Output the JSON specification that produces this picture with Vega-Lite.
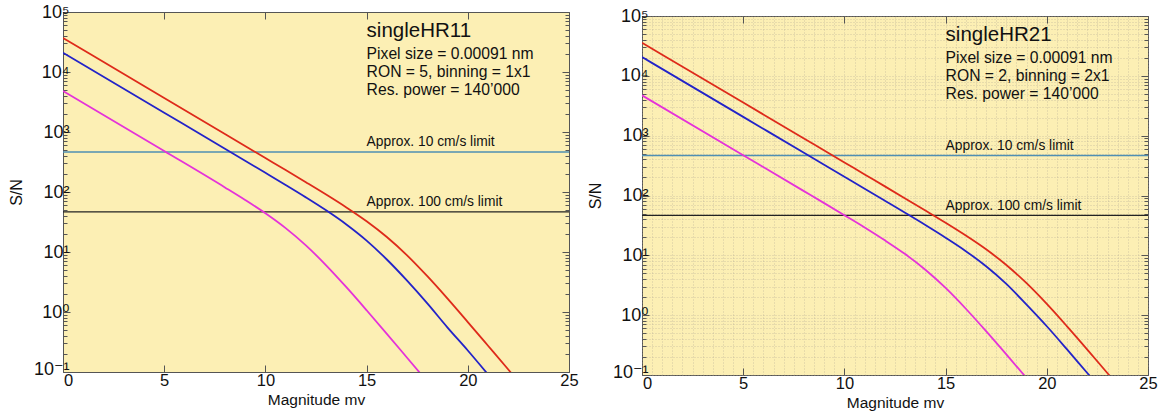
{
  "$schema": "https://vega.github.io/schema/vega-lite/v6.json",
  "padding": {"left": 7, "top": 2, "right": 5, "bottom": 5},
  "background": "white",
  "spacing": 73,
  "bounds": "flush",
  "config": {
    "font": "Liberation Sans, DejaVu Sans, sans-serif",
    "view": {"fill": "#fcefb4", "stroke": "#555555", "strokeWidth": 1},
    "axis": {"domain": false, "tickColor": "#555555", "labelColor": "#111111", "titleColor": "#111111", "labelFont": "Liberation Sans, DejaVu Sans, sans-serif", "titleFont": "Liberation Sans, sans-serif", "titleFontWeight": "normal"}
  },
  "datasets": {
    "left": [
      {"series": "red", "mag": 0, "sn": 36900}, {"series": "red", "mag": 5, "sn": 3690}, {"series": "red", "mag": 8, "sn": 927}, {"series": "red", "mag": 10, "sn": 368}, {"series": "red", "mag": 11, "sn": 232}, {"series": "red", "mag": 12, "sn": 145.6}, {"series": "red", "mag": 13, "sn": 90.7}, {"series": "red", "mag": 14, "sn": 55.4}, {"series": "red", "mag": 15, "sn": 32.6}, {"series": "red", "mag": 16, "sn": 17.8}, {"series": "red", "mag": 17, "sn": 8.8}, {"series": "red", "mag": 18, "sn": 3.95}, {"series": "red", "mag": 19, "sn": 1.67}, {"series": "red", "mag": 20, "sn": 0.68}, {"series": "red", "mag": 21, "sn": 0.274}, {"series": "red", "mag": 22, "sn": 0.11}, {"series": "red", "mag": 22.5, "sn": 0.069},
      {"series": "blue", "mag": 0, "sn": 21000}, {"series": "blue", "mag": 5, "sn": 2100}, {"series": "blue", "mag": 8, "sn": 527}, {"series": "blue", "mag": 10, "sn": 209}, {"series": "blue", "mag": 11, "sn": 131}, {"series": "blue", "mag": 12, "sn": 81.4}, {"series": "blue", "mag": 13, "sn": 49.5}, {"series": "blue", "mag": 14, "sn": 28.8}, {"series": "blue", "mag": 15, "sn": 15.5}, {"series": "blue", "mag": 16, "sn": 7.5}, {"series": "blue", "mag": 17, "sn": 3.33}, {"series": "blue", "mag": 18, "sn": 1.39}, {"series": "blue", "mag": 19, "sn": 0.55}, {"series": "blue", "mag": 20, "sn": 0.228}, {"series": "blue", "mag": 21, "sn": 0.091},
      {"series": "magenta", "mag": 0, "sn": 4820}, {"series": "magenta", "mag": 5, "sn": 482}, {"series": "magenta", "mag": 8, "sn": 119.3}, {"series": "magenta", "mag": 9, "sn": 73.6}, {"series": "magenta", "mag": 10, "sn": 44.2}, {"series": "magenta", "mag": 11, "sn": 25}, {"series": "magenta", "mag": 12, "sn": 12.9}, {"series": "magenta", "mag": 13, "sn": 6.0}, {"series": "magenta", "mag": 14, "sn": 2.59}, {"series": "magenta", "mag": 15, "sn": 1.07}, {"series": "magenta", "mag": 16, "sn": 0.433}, {"series": "magenta", "mag": 17, "sn": 0.173}, {"series": "magenta", "mag": 18, "sn": 0.069}
    ],
    "right": [
      {"series": "red", "mag": 0, "sn": 35700}, {"series": "red", "mag": 5, "sn": 3570}, {"series": "red", "mag": 8, "sn": 897}, {"series": "red", "mag": 10, "sn": 357}, {"series": "red", "mag": 11, "sn": 225}, {"series": "red", "mag": 12, "sn": 142}, {"series": "red", "mag": 13, "sn": 89.4}, {"series": "red", "mag": 14, "sn": 56.1}, {"series": "red", "mag": 15, "sn": 35}, {"series": "red", "mag": 16, "sn": 21.4}, {"series": "red", "mag": 17, "sn": 12.6}, {"series": "red", "mag": 18, "sn": 6.9}, {"series": "red", "mag": 19, "sn": 3.42}, {"series": "red", "mag": 20, "sn": 1.54}, {"series": "red", "mag": 21, "sn": 0.65}, {"series": "red", "mag": 22, "sn": 0.266}, {"series": "red", "mag": 23, "sn": 0.107}, {"series": "red", "mag": 23.5, "sn": 0.068},
      {"series": "blue", "mag": 0, "sn": 20600}, {"series": "blue", "mag": 5, "sn": 2060}, {"series": "blue", "mag": 8, "sn": 518}, {"series": "blue", "mag": 10, "sn": 206}, {"series": "blue", "mag": 11, "sn": 130}, {"series": "blue", "mag": 12, "sn": 81.8}, {"series": "blue", "mag": 13, "sn": 51.4}, {"series": "blue", "mag": 14, "sn": 32.1}, {"series": "blue", "mag": 15, "sn": 19.7}, {"series": "blue", "mag": 16, "sn": 11.75}, {"series": "blue", "mag": 17, "sn": 6.56}, {"series": "blue", "mag": 18, "sn": 3.33}, {"series": "blue", "mag": 19, "sn": 1.5}, {"series": "blue", "mag": 20, "sn": 0.653}, {"series": "blue", "mag": 21, "sn": 0.268}, {"series": "blue", "mag": 22, "sn": 0.108}, {"series": "blue", "mag": 22.5, "sn": 0.069},
      {"series": "magenta", "mag": 0, "sn": 4720}, {"series": "magenta", "mag": 5, "sn": 472}, {"series": "magenta", "mag": 8, "sn": 118.4}, {"series": "magenta", "mag": 9, "sn": 74.6}, {"series": "magenta", "mag": 10, "sn": 46.8}, {"series": "magenta", "mag": 11, "sn": 29.2}, {"series": "magenta", "mag": 12, "sn": 17.8}, {"series": "magenta", "mag": 13, "sn": 10.5}, {"series": "magenta", "mag": 14, "sn": 5.74}, {"series": "magenta", "mag": 15, "sn": 2.85}, {"series": "magenta", "mag": 16, "sn": 1.28}, {"series": "magenta", "mag": 17, "sn": 0.54}, {"series": "magenta", "mag": 18, "sn": 0.221}, {"series": "magenta", "mag": 19, "sn": 0.089}, {"series": "magenta", "mag": 19.5, "sn": 0.056}
    ],
    "titleL": [{"mag": 15, "sn": 38500, "text": "singleHR11"}],
    "titleR": [{"mag": 15, "sn": 38500, "text": "singleHR21"}],
    "infoL": [
      {"mag": 15, "sn": 16300, "text": "Pixel size = 0.00091 nm"},
      {"mag": 15, "sn": 8200, "text": "RON = 5, binning = 1x1"},
      {"mag": 15, "sn": 4100, "text": "Res. power = 140’000"}
    ],
    "infoR": [
      {"mag": 15, "sn": 16300, "text": "Pixel size = 0.00091 nm"},
      {"mag": 15, "sn": 8200, "text": "RON = 2, binning = 2x1"},
      {"mag": 15, "sn": 4100, "text": "Res. power = 140’000"}
    ],
    "limitText": [
      {"mag": 15, "sn": 585, "text": "Approx. 10 cm/s limit"},
      {"mag": 15, "sn": 58, "text": "Approx. 100 cm/s limit"}
    ]
  },
  "hconcat": [
    {
      "width": 506,
      "height": 360,
      "resolve": {"axis": {"x": "independent", "y": "independent"}},
      "layer": [
        {
          "data": {"values": [{"sn": 465}]},
          "mark": {"type": "rule", "color": "#4f8fb3", "strokeWidth": 1.5},
          "encoding": {"y": {"field": "sn", "type": "quantitative", "scale": {"type": "log", "domain": [0.1, 100000]}, "axis": null}}
        },
        {
          "data": {"values": [{"sn": 46.5}]},
          "mark": {"type": "rule", "color": "#222222", "strokeWidth": 1.3},
          "encoding": {"y": {"field": "sn", "type": "quantitative", "scale": {"type": "log", "domain": [0.1, 100000]}, "axis": null}}
        },
        {
          "data": {"name": "left"},
          "mark": {"type": "line", "strokeWidth": 1.8, "clip": true, "interpolate": "monotone"},
          "encoding": {
            "x": {"field": "mag", "type": "quantitative", "scale": {"domain": [0, 25], "nice": false},
              "axis": {"orient": "bottom", "values": [0, 5, 10, 15, 20, 25], "title": "Magnitude mv", "titleFontSize": 15.5, "titlePadding": 4, "labelFontSize": 16.5, "labelPadding": 7, "labelFlush": false, "tickSize": -7, "grid": false,
                "labelOffset": {"condition": {"test": "datum.value == 0", "value": 5}, "value": 0}}},
            "y": {"field": "sn", "type": "quantitative", "scale": {"type": "log", "domain": [0.1, 100000], "nice": false},
              "axis": {"orient": "left", "title": "S/N", "titleFontSize": 16, "titlePadding": 9, "labelFontSize": 18, "labelPadding": 1, "labelFlush": false, "labelOverlap": false, "labelBaseline": "middle", "grid": false,
                "labelOffset": {"condition": {"test": "datum.value == 0.1", "value": -3}, "value": 0},
                "values": [0.1,0.2,0.3,0.4,0.5,0.6,0.7,0.8,0.9,1,2,3,4,5,6,7,8,9,10,20,30,40,50,60,70,80,90,100,200,300,400,500,600,700,800,900,1000,2000,3000,4000,5000,6000,7000,8000,9000,10000,20000,30000,40000,50000,60000,70000,80000,90000,100000],
                "tickSize": {"condition": {"test": "abs(log(datum.value)/LN10 - round(log(datum.value)/LN10)) < 0.01", "value": -7}, "value": -4},
                "labelExpr": "datum.value == 100000 ? '10⁵' : datum.value == 10000 ? '10⁴' : datum.value == 1000 ? '10³' : datum.value == 100 ? '10²' : datum.value == 10 ? '10¹' : datum.value == 1 ? '10⁰' : datum.value == 0.1 ? '10⁻¹' : ''"}},
            "color": {"field": "series", "type": "nominal", "scale": {"domain": ["red", "blue", "magenta"], "range": ["#de2a1a", "#2323c8", "#e532d9"]}, "legend": null}
          }
        },
        {
          "data": {"name": "titleL"},
          "mark": {"type": "text", "align": "left", "baseline": "alphabetic", "fontSize": 20.5, "color": "#111111"},
          "encoding": {
            "x": {"field": "mag", "type": "quantitative",
              "axis": {"orient": "top", "values": [0, 5, 10, 15, 20, 25], "labels": false, "title": null, "tickSize": -7, "grid": false}},
            "y": {"field": "sn", "type": "quantitative",
              "axis": {"orient": "right", "labels": false, "title": null, "grid": false,
                "values": [0.1,0.2,0.3,0.4,0.5,0.6,0.7,0.8,0.9,1,2,3,4,5,6,7,8,9,10,20,30,40,50,60,70,80,90,100,200,300,400,500,600,700,800,900,1000,2000,3000,4000,5000,6000,7000,8000,9000,10000,20000,30000,40000,50000,60000,70000,80000,90000,100000],
                "tickSize": {"condition": {"test": "abs(log(datum.value)/LN10 - round(log(datum.value)/LN10)) < 0.01", "value": -7}, "value": -4}}},
            "text": {"field": "text"}
          }
        },
        {
          "data": {"name": "infoL"},
          "mark": {"type": "text", "align": "left", "baseline": "alphabetic", "fontSize": 15.7, "color": "#111111"},
          "encoding": {
            "x": {"field": "mag", "type": "quantitative", "axis": null},
            "y": {"field": "sn", "type": "quantitative", "axis": null},
            "text": {"field": "text"}
          }
        },
        {
          "data": {"name": "limitText"},
          "mark": {"type": "text", "align": "left", "baseline": "alphabetic", "fontSize": 13.8, "color": "#111111"},
          "encoding": {
            "x": {"field": "mag", "type": "quantitative", "axis": null},
            "y": {"field": "sn", "type": "quantitative", "axis": null},
            "text": {"field": "text"}
          }
        }
      ]
    },
    {
      "spacing": 3,
      "bounds": "flush",
      "vconcat": [
        {
          "width": 506,
          "height": 1,
          "view": {"stroke": "transparent", "fill": "transparent"},
          "data": {"values": [{"a": 1}]},
          "mark": {"type": "point", "opacity": 0},
          "encoding": {}
        },
        {
          "width": 506,
          "height": 359,
          "resolve": {"axis": {"x": "independent", "y": "independent"}},
          "layer": [
            {
              "data": {"values": [{"sn": 465}]},
              "mark": {"type": "rule", "color": "#4f8fb3", "strokeWidth": 1.5},
              "encoding": {"y": {"field": "sn", "type": "quantitative", "scale": {"type": "log", "domain": [0.1, 100000]}, "axis": null}}
            },
            {
              "data": {"values": [{"sn": 46.5}]},
              "mark": {"type": "rule", "color": "#222222", "strokeWidth": 1.3},
              "encoding": {"y": {"field": "sn", "type": "quantitative", "scale": {"type": "log", "domain": [0.1, 100000]}, "axis": null}}
            },
            {
              "data": {"name": "right"},
              "mark": {"type": "line", "strokeWidth": 1.8, "clip": true, "interpolate": "monotone"},
              "encoding": {
                "x": {"field": "mag", "type": "quantitative", "scale": {"domain": [0, 25], "nice": false},
                  "axis": {"orient": "bottom", "values": [0, 5, 10, 15, 20, 25], "title": "Magnitude mv", "titleFontSize": 15.5, "titlePadding": 4, "labelFontSize": 16.5, "labelPadding": 7, "labelFlush": false, "tickSize": -7, "grid": false,
                    "labelOffset": {"condition": {"test": "datum.value == 0", "value": 5}, "value": 0}}},
                "y": {"field": "sn", "type": "quantitative", "scale": {"type": "log", "domain": [0.1, 100000], "nice": false},
                  "axis": {"orient": "left", "title": "S/N", "titleFontSize": 16, "titlePadding": 9, "labelFontSize": 18, "labelPadding": 1, "labelFlush": false, "labelOverlap": false, "labelBaseline": "middle", "grid": false,
                    "labelOffset": {"condition": {"test": "datum.value == 0.1", "value": -3}, "value": 0},
                    "values": [0.1,0.2,0.3,0.4,0.5,0.6,0.7,0.8,0.9,1,2,3,4,5,6,7,8,9,10,20,30,40,50,60,70,80,90,100,200,300,400,500,600,700,800,900,1000,2000,3000,4000,5000,6000,7000,8000,9000,10000,20000,30000,40000,50000,60000,70000,80000,90000,100000],
                    "tickSize": {"condition": {"test": "abs(log(datum.value)/LN10 - round(log(datum.value)/LN10)) < 0.01", "value": -7}, "value": -4},
                    "labelExpr": "datum.value == 100000 ? '10⁵' : datum.value == 10000 ? '10⁴' : datum.value == 1000 ? '10³' : datum.value == 100 ? '10²' : datum.value == 10 ? '10¹' : datum.value == 1 ? '10⁰' : datum.value == 0.1 ? '10⁻¹' : ''"}},
                "color": {"field": "series", "type": "nominal", "scale": {"domain": ["red", "blue", "magenta"], "range": ["#de2a1a", "#2323c8", "#e532d9"]}, "legend": null}
              }
            },
            {
              "data": {"name": "titleR"},
              "mark": {"type": "text", "align": "left", "baseline": "alphabetic", "fontSize": 20.5, "color": "#111111"},
              "encoding": {
                "x": {"field": "mag", "type": "quantitative",
                  "axis": {"orient": "top", "labels": false, "title": null,
                    "values": [0,0.5,1,1.5,2,2.5,3,3.5,4,4.5,5,5.5,6,6.5,7,7.5,8,8.5,9,9.5,10,10.5,11,11.5,12,12.5,13,13.5,14,14.5,15,15.5,16,16.5,17,17.5,18,18.5,19,19.5,20,20.5,21,21.5,22,22.5,23,23.5,24,24.5,25],
                    "tickSize": {"condition": {"test": "datum.value % 5 == 0", "value": -7}, "value": 0},
                    "grid": true, "gridDash": [1, 2], "gridColor": "#a9a290", "gridOpacity": 0.5, "gridWidth": 1}},
                "y": {"field": "sn", "type": "quantitative",
                  "axis": {"orient": "right", "labels": false, "title": null,
                    "values": [0.1,0.2,0.3,0.4,0.5,0.6,0.7,0.8,0.9,1,2,3,4,5,6,7,8,9,10,20,30,40,50,60,70,80,90,100,200,300,400,500,600,700,800,900,1000,2000,3000,4000,5000,6000,7000,8000,9000,10000,20000,30000,40000,50000,60000,70000,80000,90000,100000],
                    "tickSize": {"condition": {"test": "abs(log(datum.value)/LN10 - round(log(datum.value)/LN10)) < 0.01", "value": -7}, "value": -4},
                    "grid": true, "gridDash": [1, 2], "gridColor": "#a9a290", "gridOpacity": 0.5, "gridWidth": 1}},
                "text": {"field": "text"}
              }
            },
            {
              "data": {"name": "infoR"},
              "mark": {"type": "text", "align": "left", "baseline": "alphabetic", "fontSize": 15.7, "color": "#111111"},
              "encoding": {
                "x": {"field": "mag", "type": "quantitative", "axis": null},
                "y": {"field": "sn", "type": "quantitative", "axis": null},
                "text": {"field": "text"}
              }
            },
            {
              "data": {"name": "limitText"},
              "mark": {"type": "text", "align": "left", "baseline": "alphabetic", "fontSize": 13.8, "color": "#111111"},
              "encoding": {
                "x": {"field": "mag", "type": "quantitative", "axis": null},
                "y": {"field": "sn", "type": "quantitative", "axis": null},
                "text": {"field": "text"}
              }
            }
          ]
        }
      ]
    }
  ]
}
